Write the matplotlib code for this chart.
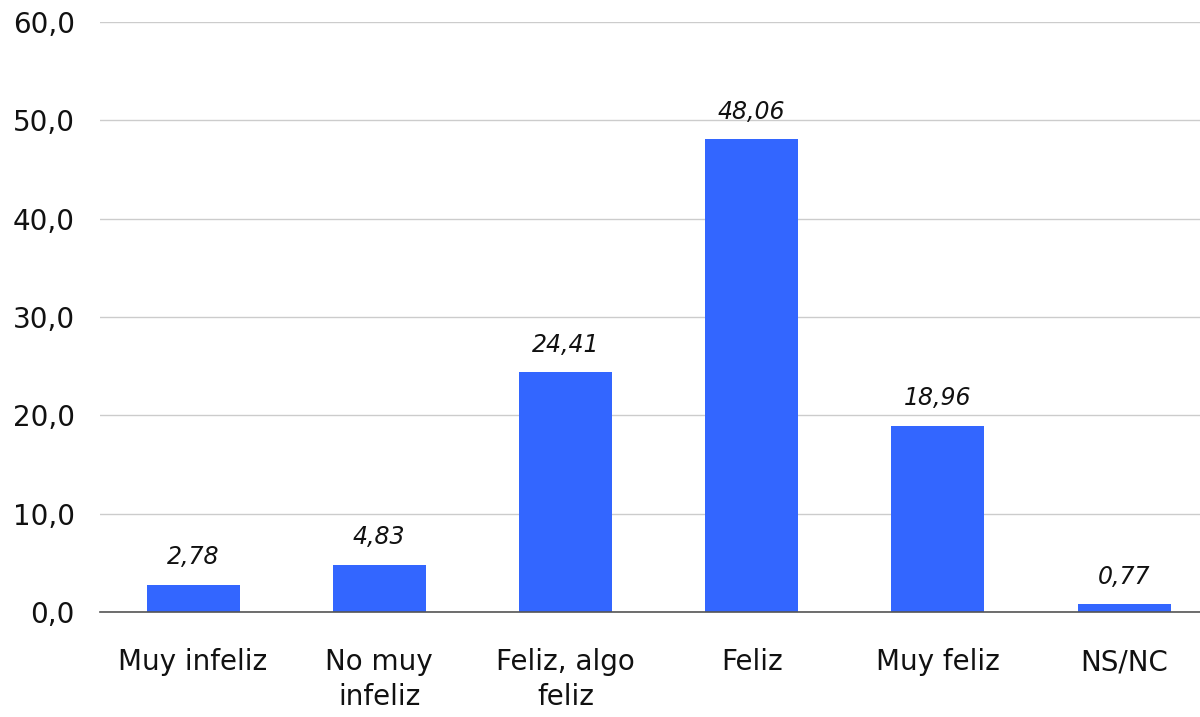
import matplotlib
matplotlib.use("Agg")
import matplotlib.pyplot as plt

categories = ["Muy infeliz", "No muy\ninfeliz", "Feliz, algo\nfeliz", "Feliz", "Muy feliz", "NS/NC"]
values = [2.78, 4.83, 24.41, 48.06, 18.96, 0.77]
value_labels = ["2,78", "4,83", "24,41", "48,06", "18,96", "0,77"]
yticks = [0, 10, 20, 30, 40, 50, 60]
ytick_labels = ["0,0", "10,0", "20,0", "30,0", "40,0", "50,0", "60,0"]

plt.rcParams['font.family'] = ['DejaVu Sans']

fig = plt.figure(figsize=(12, 7.17), dpi=100)
ax = fig.add_axes([0.0833, 0.1464, 0.931, 0.8229])

x = list(range(len(categories)))
bars = ax.bar(x, values, width=0.5, color="#3366FF", zorder=2)

ax.set_xlim(-0.5, len(categories) - 0.5)
ax.set_ylim(0, 60)
ax.set_yticks(yticks)
ax.set_yticklabels(ytick_labels, fontsize=20, color="#111111")
ax.set_xticks(x)
ax.set_xticklabels(categories, fontsize=20, color="#111111", linespacing=1.3, va="top")
ax.tick_params(axis="y", length=0, pad=18)
ax.tick_params(axis="x", length=0, pad=26)

ax.grid(axis="y", color="#cccccc", linewidth=1, zorder=0)
for s in ["top", "right", "left"]:
    ax.spines[s].set_visible(False)
ax.spines["bottom"].set_color("#555555")
ax.spines["bottom"].set_linewidth(1.2)
ax.spines["bottom"].set_zorder(3)

for xi, v, lab in zip(x, values, value_labels):
    ax.annotate(lab, (xi, v), xytext=(0, 11), textcoords="offset points",
                ha="center", va="bottom", fontsize=17, fontstyle="italic",
                color="#111111", zorder=4)

fig.savefig("out.png", dpi=100)
